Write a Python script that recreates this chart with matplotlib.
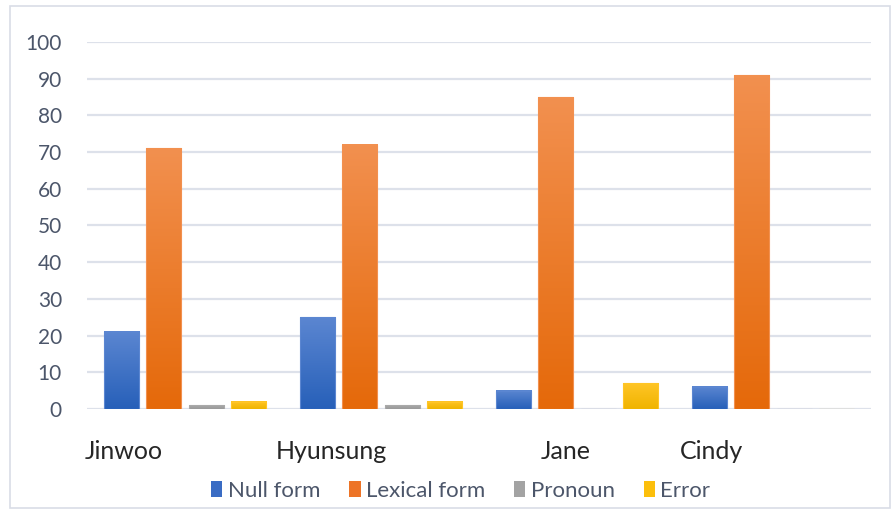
import matplotlib
matplotlib.use("Agg")
import matplotlib.pyplot as plt
from matplotlib.patches import Patch, Rectangle
from matplotlib.colors import to_rgb
import numpy as np

plt.rcParams["font.family"] = ["Lato", "DejaVu Sans"]

# ── Data ─────────────────────────────────────────────────────────
speakers = ["Jinwoo", "Hyunsung", "Jane", "Cindy"]
series_names = ["Null form", "Lexical form", "Pronoun", "Error"]
null_form = [21, 25, 5, 6]
lexical_form = [71, 72, 85, 91]
pronoun = [1, 1, 0, 0]
error = [2, 2, 7, 0]
y_ticks = [0, 10, 20, 30, 40, 50, 60, 70, 80, 90, 100]

# ── Style ────────────────────────────────────────────────────────
# (top colour, bottom colour) for the vertical fill gradient
GRADIENTS = [
    ("#5b86d1", "#2760b9"),
    ("#f2904f", "#e5690a"),
    ("#a9a9a9", "#9a9a9a"),
    ("#ffc526", "#f0b400"),
]
LEGEND_COLORS = ["#3a6cc4", "#ed7427", "#a3a3a3", "#fcbf0c"]
GRID_COL = "#dde1ea"
TEXT_COL = "#4c566a"
# label anchors along the x axis, in group units
LABEL_X = [-0.31, 0.745, 1.944, 2.684]

BAR_STEP = 0.216
BAR_W = 0.179

fig = plt.figure(figsize=(8.95, 5.12), dpi=100)
fig.patch.set_facecolor("white")
ax = fig.add_axes([0.0972, 0.2012, 0.876, 0.7168])

fig.patches.append(Rectangle((10 / 895, 4 / 512), 880 / 895, 502 / 512,
                             transform=fig.transFigure, fill=False,
                             edgecolor="#d9dde6", linewidth=1.2))

x = np.arange(len(speakers))
all_series = [null_form, lexical_form, pronoun, error]


def gradient_fill(ax, bar, top, bottom):
    """Paint a bar with a top-to-bottom colour gradient."""
    h = bar.get_height()
    if h <= 0:
        return
    x0, w = bar.get_x(), bar.get_width()
    t = np.linspace(0, 1, 64)[:, None]
    c_top, c_bot = np.array(to_rgb(top)), np.array(to_rgb(bottom))
    img = (1 - t)[..., None] * c_top + t[..., None] * c_bot
    img = img.reshape(64, 1, 3)
    ax.imshow(img, extent=(x0, x0 + w, 0, h), aspect="auto",
              origin="upper", zorder=2, interpolation="bilinear")


for i, (vals, (top, bottom)) in enumerate(zip(all_series, GRADIENTS)):
    offset = (i - 1.5) * BAR_STEP
    bars = ax.bar(x + offset, vals, width=BAR_W, facecolor="none",
                  edgecolor=top, linewidth=0.8, zorder=3)
    for b in bars:
        gradient_fill(ax, b, top, bottom)

ax.set_xlim(-0.5, len(speakers) - 0.5)
ax.set_ylim(0, 100)
ax.set_yticks(y_ticks)
ax.set_xticks([])
ax.tick_params(axis="y", length=0, pad=18, labelsize=15, labelcolor=TEXT_COL)
for s in ax.spines.values():
    s.set_visible(False)
ax.yaxis.grid(True, color=GRID_COL, linewidth=1.6, zorder=0)
ax.set_axisbelow(True)

# speaker names under the groups
for name, lx in zip(speakers, LABEL_X):
    ax.text(lx, -11.5, name, ha="center", va="center", fontsize=18,
            color="#262626")

handles = [Patch(facecolor=c, edgecolor="none", label=n)
           for c, n in zip(LEGEND_COLORS, series_names)]
fig.legend(handles=handles, loc="center", bbox_to_anchor=(0.515, 0.041),
           ncol=4, frameon=False, fontsize=16, labelcolor=TEXT_COL,
           handlelength=0.5, handleheight=0.7, handletextpad=0.25,
           columnspacing=1.3)

fig.savefig("out.png", dpi=100, facecolor="white")
